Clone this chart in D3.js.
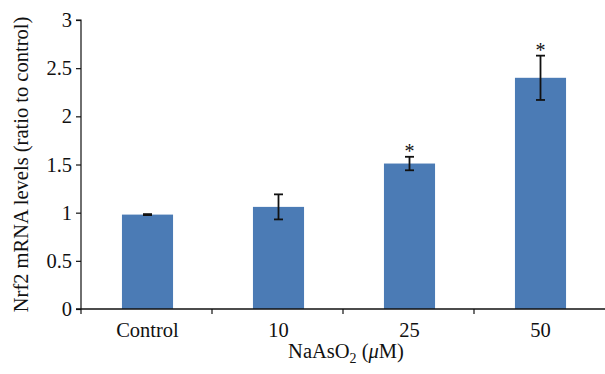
<!DOCTYPE html>
<html>
<head>
<meta charset="utf-8">
<script src="https://cdn.jsdelivr.net/npm/d3@7"></script>
<style>
  html, body { margin: 0; padding: 0; background: #fff; }
  svg { display: block; }
  text { font-family: "Liberation Serif", "DejaVu Serif", serif; fill: #111; }
</style>
</head>
<body>
<svg id="chart" width="605" height="374"></svg>
<script>
const categories = ["Control", "10", "25", "50"];
const values = [0.98, 1.06, 1.51, 2.40];
const errors = [0.005, 0.13, 0.07, 0.23];
const significant = [false, false, true, true];
const yTicks = [0, 0.5, 1, 1.5, 2, 2.5, 3];
const yTitle = "Nrf2 mRNA levels (ratio to control)";

(function () {
const svg = d3.select("#chart");
const mLeft = 81, mRight = 605, mTop = 20, mBottom = 309;
const fs = "20.5px";

const x = d3.scaleBand().domain(categories).range([mLeft + 1, mRight + 1]).padding(0);
const y = d3.scaleLinear().domain([0, 3]).range([mBottom, mTop]);
const barW = x.bandwidth() * 0.39;

// Bars
svg.append("g").selectAll("rect")
  .data(categories)
  .enter().append("rect")
  .attr("x", (d, i) => x(d) + x.bandwidth() / 2 - barW / 2)
  .attr("y", (d, i) => y(values[i]))
  .attr("width", barW)
  .attr("height", (d, i) => y(0) - y(values[i]))
  .attr("fill", "#4b7bb5");

// Error bars
const eg = svg.append("g").attr("stroke", "#111").attr("stroke-width", 1.8);
categories.forEach((c, i) => {
  const cx = x(c) + x.bandwidth() / 2;
  const y1 = y(values[i] + errors[i]), y2 = y(values[i] - errors[i]);
  eg.append("line").attr("x1", cx).attr("x2", cx).attr("y1", y1).attr("y2", y2);
  eg.append("line").attr("x1", cx - 4.5).attr("x2", cx + 4.5).attr("y1", y1).attr("y2", y1);
  eg.append("line").attr("x1", cx - 4.5).attr("x2", cx + 4.5).attr("y1", y2).attr("y2", y2);
  if (significant[i]) {
    svg.append("text")
      .attr("x", cx).attr("y", y1 + 1)
      .attr("text-anchor", "middle")
      .style("font-size", "20px")
      .text("*");
  }
});

// Y axis
const yAxis = d3.axisLeft(y).tickValues(yTicks).tickFormat(d3.format("")).tickSize(5).tickPadding(4);
const yg = svg.append("g").attr("transform", `translate(${mLeft},0)`).call(yAxis);
yg.select(".domain").attr("stroke", "#111").attr("stroke-width", 1.2).attr("d", `M-5,${mTop}H0V${mBottom}`);
yg.selectAll(".tick line").attr("stroke", "#111").attr("stroke-width", 1.2);
yg.selectAll(".tick text").style("font-size", fs).style("font-family", "Liberation Serif").attr("fill", "#111");

// X axis
const xg = svg.append("g").attr("transform", `translate(0,${mBottom})`);
xg.append("line").attr("x1", mLeft - 5).attr("x2", mRight).attr("y1", 0).attr("y2", 0)
  .attr("stroke", "#111").attr("stroke-width", 1.5);
const bounds = categories.map(c => x(c) - 1);
xg.selectAll(".xt").data(bounds).enter().append("line")
  .attr("x1", d => d).attr("x2", d => d).attr("y1", 0).attr("y2", 5)
  .attr("stroke", "#111").attr("stroke-width", 1.2);
xg.selectAll(".xl").data(categories).enter().append("text")
  .attr("x", d => x(d) + x.bandwidth() / 2)
  .attr("y", 28)
  .attr("text-anchor", "middle")
  .style("font-size", fs)
  .text(d => d);

// X title
const xt = svg.append("text")
  .attr("x", 346).attr("y", 358)
  .attr("text-anchor", "middle")
  .style("font-size", fs);
xt.append("tspan").text("NaAsO");
xt.append("tspan").attr("dy", 5).style("font-size", "14px").text("2");
xt.append("tspan").attr("dy", -5).text(" (");
xt.append("tspan").style("font-style", "italic").text("μ");
xt.append("tspan").text("M)");

// Y title
svg.append("text")
  .attr("transform", `translate(28,${(mTop + mBottom) / 2}) rotate(-90)`)
  .attr("text-anchor", "middle")
  .style("font-size", fs)
  .text(yTitle);
})();
</script>
</body>
</html>
